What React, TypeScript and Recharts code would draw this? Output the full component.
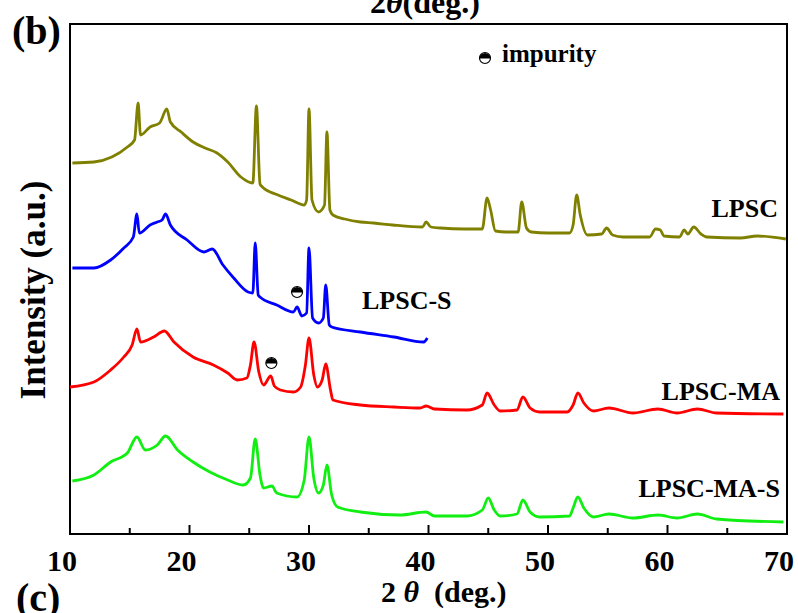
import { LineChart, Line, XAxis, YAxis, ReferenceArea, ReferenceDot } from "recharts";

// 2θ (deg.) / offset intensity (a.u.) pairs
const lpsc = [
  [10.2, 371], [12.0, 372], [13.5, 377], [14.8, 387], [15.4, 394], [15.7, 431], [15.9, 399],
  [16.7, 407], [17.5, 411], [18.1, 425], [18.4, 412], [19.3, 402], [20.3, 392], [21.3, 386],
  [22.3, 381], [23.2, 372], [24.3, 357], [25.3, 351], [25.6, 428], [25.9, 350], [26.1, 347],
  [27.4, 339], [28.5, 334], [29.6, 329], [29.8, 334], [30.0, 425], [30.25, 334], [30.8, 322],
  [31.3, 329], [31.5, 402], [31.75, 324], [32.0, 319], [33.0, 315], [34.3, 312], [35.4, 311],
  [37.0, 309], [39.5, 307], [39.8, 312], [40.2, 307], [41.0, 306], [43.0, 305], [44.5, 305],
  [44.9, 336], [45.2, 324], [45.6, 303], [46.5, 302], [47.5, 302], [47.8, 332], [48.2, 306],
  [48.6, 302], [50.0, 301], [51.8, 301], [52.1, 309], [52.4, 339], [52.7, 319], [53.3, 299],
  [54.5, 300], [54.9, 306], [55.4, 299], [56.3, 297], [58.5, 297], [59.0, 305], [59.4, 304],
  [59.7, 298], [61.0, 297], [61.4, 304], [61.7, 300], [62.2, 307], [62.8, 300], [63.3, 297],
  [66.1, 296], [67.5, 298], [69.9, 295],
];

const lpscS = [
  [10.2, 266], [12.0, 266], [13.4, 274], [14.5, 286], [15.3, 297], [15.6, 320], [15.8, 301],
  [16.7, 309], [17.3, 312], [17.7, 314], [18.0, 320], [18.4, 309], [19.8, 294], [21.2, 282],
  [21.9, 285], [22.8, 269], [23.7, 256], [24.9, 242], [25.3, 241], [25.5, 291], [25.75, 239],
  [25.9, 237], [27.3, 229], [28.7, 222], [29.0, 227], [29.4, 218], [29.8, 221], [30.0, 286],
  [30.3, 216], [30.8, 211], [31.2, 216], [31.4, 249], [31.7, 209], [31.9, 207], [34.3, 202],
  [37.1, 197], [39.6, 192], [39.9, 196],
];

const lpscMA = [
  [10.0, 147], [12.0, 152], [13.4, 164], [14.5, 177], [15.2, 189], [15.6, 205], [15.9, 192],
  [17.0, 197], [17.9, 203], [18.7, 192], [20.3, 177], [22.0, 169], [23.2, 161], [24.0, 154],
  [24.8, 156], [25.1, 169], [25.4, 192], [25.8, 162], [26.2, 149], [26.8, 158], [27.1, 148],
  [27.6, 144], [28.7, 142], [29.3, 147], [29.7, 169], [30.0, 196], [30.4, 159], [30.7, 147],
  [31.1, 154], [31.4, 170], [31.8, 144], [32.0, 134], [34.3, 129], [37.1, 127], [39.3, 126],
  [39.8, 128], [40.5, 125], [43.2, 124], [44.5, 129], [44.9, 141], [45.5, 129], [46.0, 123],
  [47.4, 124], [47.9, 137], [48.5, 126], [49.3, 122], [51.6, 122], [52.1, 129], [52.5, 141],
  [53.0, 131], [53.8, 123], [55.1, 126], [57.1, 121], [59.2, 125], [60.8, 121], [62.5, 125],
  [64.1, 121], [69.7, 120],
];

const lpscMAS = [
  [10.2, 53], [12.0, 59], [13.4, 72], [14.8, 81], [15.6, 97], [16.3, 84], [17.3, 89],
  [18.0, 98], [19.0, 84], [20.3, 72], [21.7, 62], [23.2, 54], [24.5, 49], [25.1, 56],
  [25.5, 95], [25.9, 59], [26.2, 46], [26.9, 48], [27.3, 41], [29.0, 37], [29.6, 54],
  [30.0, 97], [30.4, 56], [30.8, 41], [31.2, 49], [31.5, 69], [31.9, 39], [32.4, 27],
  [34.3, 22], [37.6, 19], [39.8, 22], [40.5, 18], [43.2, 18], [44.5, 24], [45.0, 36],
  [45.5, 24], [46.0, 18], [47.4, 20], [47.9, 34], [48.5, 22], [49.3, 17], [51.8, 18],
  [52.1, 26], [52.5, 37], [53.0, 26], [53.8, 17], [55.1, 20], [57.1, 16], [59.2, 19],
  [60.8, 16], [62.5, 20], [64.1, 15], [69.7, 12],
];

// impurity peaks marked with half-filled circles: [2θ, height]
const impurityMarks = [
  [29.0, 242],
  [26.85, 171],
];

const xTicks = [10, 15, 20, 25, 30, 35, 40, 45, 50, 55, 60, 65, 70];

const series = [
  { name: "LPSC", color: "#808000", points: lpsc },
  { name: "LPSC-S", color: "#0000ff", points: lpscS },
  { name: "LPSC-MA", color: "#ff0000", points: lpscMA },
  { name: "LPSC-MA-S", color: "#11ee11", points: lpscMAS },
];

const toRows = (pts: number[][]) => pts.map(([t, v]) => ({ t, v }));

const FONT = "'Liberation Serif', 'Times New Roman', serif";

const BottomTick = (props: any) => {
  const { x, y, payload } = props;
  const major = payload.value % 10 === 0;
  return (
    <g>
      <line x1={x} x2={x} y1={y} y2={y - (major ? 9 : 6)} stroke="#000" strokeWidth={2} />
      {major && (
        <text x={x - 8} y={y + 37} textAnchor="middle" fontFamily={FONT} fontWeight="bold" fontSize={30} fill="#000">
          {payload.value}
        </text>
      )}
    </g>
  );
};

const HalfDot = (props: any) => {
  const { cx, cy } = props;
  const r = 5.5;
  return (
    <g>
      <circle cx={cx} cy={cy} r={r} fill="#fff" stroke="#000" strokeWidth={1.2} />
      <path d={`M ${cx - r} ${cy + 0.5} A ${r} ${r} 0 0 1 ${cx + r} ${cy + 0.5} Z`} fill="#000" />
    </g>
  );
};

const txt = { fontFamily: FONT, fontWeight: "bold" as const, fill: "#000" };

export default function App() {
  return (
    <div style={{ position: "absolute", left: 0, top: 0, width: 798, height: 613, background: "#fff" }}>
      <LineChart width={798} height={613} margin={{ top: 24, right: 11, left: 70, bottom: 39 }}>
        <XAxis
          dataKey="t"
          type="number"
          domain={[10, 70]}
          ticks={xTicks}
          interval={0}
          axisLine={false}
          tickLine={false}
          tickSize={0}
          tickMargin={0}
          height={40}
          tick={<BottomTick />}
        />
        <YAxis type="number" domain={[0, 510]} hide />
        <ReferenceArea x1={10} x2={70} y1={0} y2={510} fill="none" fillOpacity={0} stroke="#000" strokeWidth={2} />
        {series.map((s) => (
          <Line
            key={s.name}
            data={toRows(s.points)}
            dataKey="v"
            type="monotone"
            stroke={s.color}
            strokeWidth={2.8}
            strokeLinejoin="round"
            dot={false}
            isAnimationActive={false}
          />
        ))}
        {impurityMarks.map(([t, v], i) => (
          <ReferenceDot key={i} x={t} y={v} shape={<HalfDot />} />
        ))}
      </LineChart>
      <svg width={798} height={613} style={{ position: "absolute", left: 0, top: 0, pointerEvents: "none" }}>
        <text x={370} y={13} fontSize={32} {...txt}>
          2<tspan fontStyle="italic">θ</tspan>(deg.)
        </text>
        <text x={12} y={44} fontSize={40} {...txt}>(b)</text>
        <text x={16} y={611} fontSize={40} {...txt}>(c)</text>
        <g transform="translate(480 58)">
          <HalfDot cx={5} cy={0} />
        </g>
        <text x={502} y={62} fontSize={25} {...txt}>impurity</text>
        <text x={778} y={217} fontSize={26} textAnchor="end" {...txt}>LPSC</text>
        <text x={362} y={309} fontSize={26} {...txt}>LPSC-S</text>
        <text x={780} y={400} fontSize={26} textAnchor="end" {...txt}>LPSC-MA</text>
        <text x={780} y={497} fontSize={26} textAnchor="end" {...txt}>LPSC-MA-S</text>
        <text transform="translate(45 290) rotate(-90)" fontSize={35} textAnchor="middle" {...txt}>
          Intensity (a.u.)
        </text>
        <text x={381} y={602} fontSize={30} {...txt} style={{ whiteSpace: "pre" }}>
          2 <tspan fontStyle="italic">θ</tspan>  (deg.)
        </text>
      </svg>
    </div>
  );
}
